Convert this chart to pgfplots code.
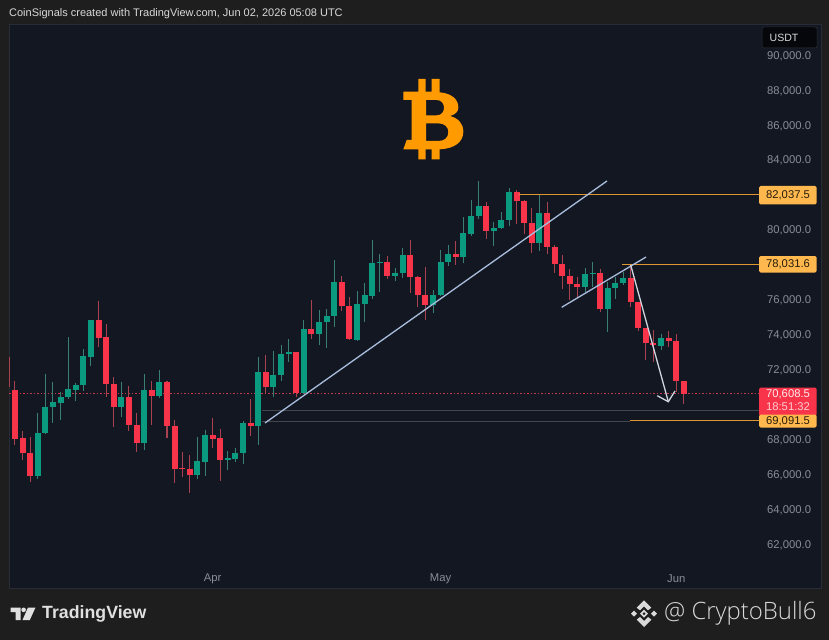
\documentclass[border=0pt]{standalone}
\usepackage{pgfplots}
\usepackage{pgfplotstable}
\pgfplotsset{compat=1.18}
\usepackage{fontspec}
\setmainfont{Liberation Sans}
\newfontfamily\cbfont{Open Sans Light}
\definecolor{pagebg}{HTML}{1E1E1E}
\definecolor{panelbg}{HTML}{131722}
\definecolor{candleR}{HTML}{F8344A}
\definecolor{candleG}{HTML}{0A9A80}
\definecolor{wickR}{HTML}{A8424E}
\definecolor{wickG}{HTML}{3A7F74}
\definecolor{tagO}{HTML}{FFB84D}
\definecolor{lineO}{HTML}{E0962F}
\definecolor{axtxt}{HTML}{8A8D97}
\definecolor{trend}{HTML}{A9BEDD}
\definecolor{arrowc}{HTML}{D0D4DE}
\definecolor{greyline}{HTML}{44464D}
\definecolor{dotred}{HTML}{C83A4A}
\definecolor{btc}{HTML}{FF9A00}
\pgfplotstableread{
i top bot high low
-0.75 70000 70000 72700 71000
0 70814 68027 71330 67664
1 68065 67187 68466 66805
2 67206 65889 68142 65545
11 74804 73811 75930 73296
12 73831 71158 74594 70432
13 71158 69841 71540 68714
15 70432 68810 71024 68485
16 68829 67760 69497 67283
18 70814 70452 71311 68810
20 71253 68753 71330 68084
21 68753 66290 69096 65469
22 66347 66271 67244 65851
23 66290 65927 67073 64896
26 68218 68008 69230 67474
27 68065 66824 68581 65622
31 68943 68753 70280 68199
33 71845 70967 72800 70624
37 72972 70662 73010 70433
39 74327 74041 75969 73716
43 76981 75606 77343 75358
44 75606 73716 76141 73678
49 78145 77343 78489 77152
52 78565 77267 79405 76351
53 77267 76236 77343 75587
54 76236 75683 77840 74823
58 78603 78451 79367 77973
62 81352 79921 81600 79443
66 82135 81639 82269 80341
67 81639 80379 81696 79749
68 80398 79214 81219 78642
70 80970 78985 81562 78603
71 79004 78031 79119 77534
72 78031 77362 78527 76618
73 77362 76885 77725 75969
74 76885 76732 77305 76064
77 77515 75453 77763 75263
81 77229 75835 77973 75587
82 75835 74365 75873 74174
83 74365 73506 74384 72533
84 73525 73373 74251 72399
86 73812 73602 74194 73296
87 73602 71330 74022 70719
88 71330 70608 71349 70013
}\redcandles
\pgfplotstableread{
i top bot high low
3 68371 65889 69478 65736
4 69860 68333 71712 68294
5 70127 69841 71253 68905
6 70413 70089 70719 69096
7 70852 70413 73850 70299
8 71101 70833 71234 70203
9 72742 71101 73162 70776
10 74804 72723 74823 72189
14 70413 69822 71292 69287
17 70814 67760 71750 67378
19 71253 70471 71960 70356
24 66729 65927 68104 65717
25 68218 66710 68523 65908
28 66901 66824 67302 66233
29 67206 66863 67512 66710
30 68943 67206 69039 66557
32 71845 68753 72685 67664
34 71693 70967 73067 70395
35 72857 71693 73411 71349
36 72972 72857 73716 72418
38 74327 70624 74823 70586
40 74709 74041 75396 73411
41 75072 74709 75453 73220
42 76981 75072 78260 74442
45 75740 73697 76484 73640
46 76236 75740 76942 74728
47 78088 76217 79405 76045
48 78164 78088 78603 76446
50 77534 77343 77782 77057
51 78565 77515 78928 77248
55 76236 75663 76542 75243
56 78126 76236 78832 76198
57 78603 78126 79119 77935
59 79787 78451 80722 78069
60 80799 79768 81696 79653
61 81333 80799 82784 80627
63 80092 79901 80455 79081
64 80570 80092 80990 80054
65 82135 80570 82402 80207
69 80970 79214 81963 78794
75 77458 76732 77782 76446
76 77534 77458 78126 76694
78 76656 75453 77019 74155
79 76962 76656 77305 76007
80 77248 76942 77592 76828
85 73812 73354 74041 73105
}\greencandles
\begin{document}
\begin{tikzpicture}
\begin{scope}[x=1bp,y=-1bp]
\fill[pagebg] (0,0) rectangle (829,640);
\useasboundingbox (0,0) rectangle (829,640);
\fill[panelbg] (9,24) rectangle (821.5,588);
\draw[draw=white!9!panelbg,line width=0.6bp] (9,24) rectangle (821.5,588);
\node[anchor=west,inner sep=0,text=white!85!black,font=\fontsize{11.03}{13}\selectfont] at (9,13.5) {CoinSignals created with TradingView.com, Jun 02, 2026 05:08 UTC};
% bitcoin logo
\begin{scope}[shift={(395,70)},x=0.3333bp,y=-0.3333bp]
\fill[btc,even odd rule] (25,65) -- (70,65) -- (70,27) -- (92,27) -- (92,65) -- (110,65) -- (110,27) -- (134,27) -- (134,67)
 .. controls (170,70) and (190,88) .. (190,112) .. controls (190,125) and (182,133) .. (165,138)
 .. controls (190,145) and (205,160) .. (205,185) .. controls (205,215) and (180,236) .. (134,238)
 -- (134,268) -- (110,268) -- (110,238) -- (92,238) -- (92,268) -- (70,268) -- (70,238) -- (25,238) -- (35,210) -- (50,210) -- (50,90) -- (25,90) -- cycle
 (93,90) -- (125,90) .. controls (140,90) and (147,102) .. (147,113) .. controls (147,125) and (140,136) .. (125,136) -- (93,136) -- cycle
 (93,160) -- (130,160) .. controls (150,160) and (160,172) .. (160,186) .. controls (160,202) and (150,213) .. (130,213) -- (93,213) -- cycle;
\end{scope}
\end{scope}
\begin{axis}[
  at={(9bp,-564bp)},anchor=south west,
  width=750bp,height=540bp,scale only axis,
  xmin=-0.789,xmax=97.895,
  ymin=60850,ymax=91775,
  axis line style={draw=none},
  tick style={draw=none},
  major tick length=0pt,
  axis x line*=bottom,axis y line*=right,
  xtick={26,56,87},xticklabels={Apr,May,Jun},
  ytick={62000,64000,66000,68000,72000,74000,76000,80000,84000,86000,88000,90000},
  /pgf/number format/assume math mode=true,
  /pgf/number format/fixed,/pgf/number format/fixed zerofill,/pgf/number format/precision=1,/pgf/number format/1000 sep={,},
  scaled y ticks=false,
  tick label style={text=axtxt,font=\fontsize{11.3}{13}\selectfont},
  yticklabel style={anchor=west,xshift=8bp,yshift=-1bp,inner sep=0pt},
  xticklabel style={anchor=center,yshift=-14.5bp,inner sep=0pt},
  clip=true,
]
% dotted last price and grey levels
\addplot[dotred,line width=1bp,dash pattern=on 1.5bp off 2bp,forget plot] coordinates {(-0.789,70608.5) (97.895,70608.5)};
\addplot[greyline,line width=1bp,forget plot] coordinates {(32.5,69640) (97.895,69640)};
\addplot[greyline,line width=1bp,forget plot] coordinates {(32.5,69000) (80.9,69000)};
% wicks
\addplot[draw=none,forget plot,error bars/.cd,y dir=minus,y explicit,error mark=none,error bar style={draw=wickR,line width=1bp}] table[x=i,y=high,y error minus expr=\thisrow{high}-\thisrow{low}] {\redcandles};
\addplot[draw=none,forget plot,error bars/.cd,y dir=minus,y explicit,error mark=none,error bar style={draw=wickG,line width=1bp}] table[x=i,y=high,y error minus expr=\thisrow{high}-\thisrow{low}] {\greencandles};
% bodies
\addplot[draw=none,forget plot,error bars/.cd,y dir=minus,y explicit,error mark=none,error bar style={draw=candleR,line width=6bp}] table[x=i,y=top,y error minus expr=\thisrow{top}-\thisrow{bot}] {\redcandles};
\addplot[draw=none,forget plot,error bars/.cd,y dir=minus,y explicit,error mark=none,error bar style={draw=candleG,line width=6bp}] table[x=i,y=top,y error minus expr=\thisrow{top}-\thisrow{bot}] {\greencandles};
% orange levels
\addplot[lineO,line width=1.3bp,forget plot] coordinates {(66.3,82000) (97.895,82000)};
\addplot[lineO,line width=1.3bp,forget plot] coordinates {(79.9,78000) (97.895,78000)};
\addplot[lineO,line width=1.3bp,forget plot] coordinates {(80.9,69060) (97.895,69060)};
% trend lines
\addplot[trend,line width=1.3bp,forget plot] coordinates {(32.89,68925) (77.89,82784)};
\addplot[trend,line width=1.3bp,forget plot] coordinates {(71.93,75551) (83.03,78431)};
\addplot[arrowc,line width=1.3bp,forget plot] coordinates {(81.01,77973) (85.96,70145)};
\addplot[arrowc,line width=1.3bp,forget plot] coordinates {(84.51,70489) (85.96,70145) (86.84,70757)};
\end{axis}
\begin{scope}[x=1bp,y=-1bp]
\tikzset{tag/.style={anchor=center,inner sep=0,text=black!85!tagO,font=\fontsize{11.3}{13}\selectfont}}
\fill[tagO,rounded corners=1.5bp] (759,186) rectangle (816.5,204.5);
\node[tag] at (788,195.3) {82,037.5};
\fill[tagO,rounded corners=1.5bp] (759,256) rectangle (816.5,272.5);
\node[tag] at (788,264.5) {78,031.6};
\fill[candleR,rounded corners=1.5bp] (759,387.5) rectangle (816.5,416);
\fill[tagO,rounded corners=1.5bp] (759,414.5) rectangle (816.5,427.5);
\node[tag,text=white!90!candleR] at (788,394.5) {70,608.5};
\node[tag,text=white!75!candleR] at (788,406.5) {18:51:32};
\node[tag] at (788,421) {69,091.5};
% USDT box
\fill[black!70!panelbg,rounded corners=2bp] (762,27) rectangle (817,48);
\draw[white!12!panelbg,rounded corners=2bp,line width=0.5bp] (762,27) rectangle (817,48);
\node[anchor=center,inner sep=0,text=white!85!black,font=\fontsize{10.6}{13}\selectfont] at (784,38) {USDT};
% TradingView logo
\fill[white!88!black] (10.5,607.5) -- (20.5,607.5) -- (20.5,620) -- (15.5,620) -- (15.5,612) -- (10.5,612) -- cycle;
\fill[white!88!black] (23.6,609.8) circle (2.3);
\fill[white!88!black] (28,607.5) -- (35.5,607.5) -- (29.8,620) -- (22.5,620) -- cycle;
\node[anchor=west,inner sep=0,text=white!88!black,font=\bfseries\fontsize{17.8}{20}\selectfont] at (42,613.5) {TradingView};
% Binance logo
\begin{scope}[shift={(620,592)},x=0.3333bp,y=-0.3333bp]
\fill[white!85!black] (72,25) -- (94,47) -- (84,55) -- (72,43) -- (60,55) -- (50,47) -- cycle;
\fill[white!85!black] (72,105) -- (94,83) -- (84,75) -- (72,87) -- (60,75) -- (50,83) -- cycle;
\fill[white!85!black,even odd rule] (72,53) -- (84,65) -- (72,77) -- (60,65) -- cycle (72,60) -- (77,65) -- (72,70) -- (67,65) -- cycle;
\fill[white!85!black] (42,56) -- (51,65) -- (42,74) -- (33,65) -- cycle;
\fill[white!85!black] (102,56) -- (111,65) -- (102,74) -- (93,65) -- cycle;
\end{scope}
\node[anchor=west,inner sep=0,text=white!85!black,font=\cbfont\fontsize{24}{28}\selectfont] at (664,613.5) {@ CryptoBull6};
\end{scope}
\end{tikzpicture}
\end{document}
